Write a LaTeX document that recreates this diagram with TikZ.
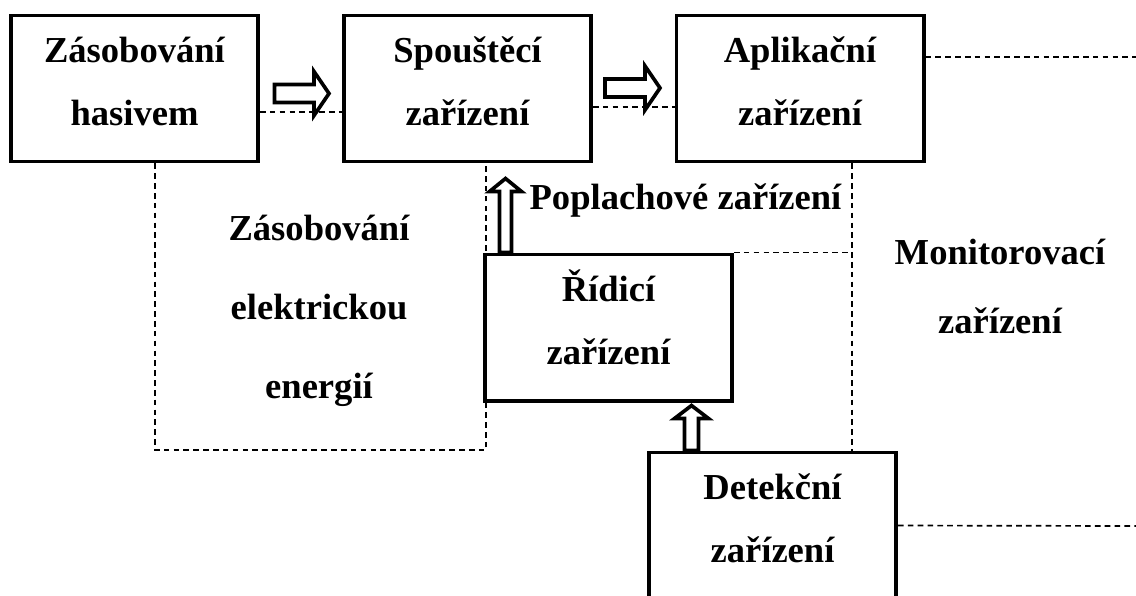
\documentclass[tikz,border=0pt]{standalone}
\usepackage{fontspec}
\setmainfont{Liberation Serif}
\usetikzlibrary{calc}
\newcommand{\zstrut}{\rule[-18.5pt]{0pt}{44.8pt}}

\begin{document}
\begin{tikzpicture}[x=0.025cm, y=-0.025cm,
  box/.style={draw, line width=2.8pt, minimum width=6.175cm, minimum height=3.65cm, inner sep=0pt, align=center, font=\bfseries\fontsize{26}{44.8}\selectfont},
  txt/.style={inner sep=0pt, align=center, font=\bfseries\fontsize{26}{56.5}\selectfont},
  dashln/.style={line width=1.2pt, dash pattern=on 4pt off 3pt},
  blk/.style={draw, line width=2.6pt, fill=white, line join=miter}]
  \useasboundingbox (0,0) rectangle (1136,595);
  \clip (0,0) rectangle (1136,595);
  % boxes
  \node[box] (hasivo) at (134.5,88.5) {\zstrut Zásobování\\\zstrut hasivem};
  \node[box] (spoust) at (467.5,88.5) {\zstrut Spouštěcí\\\zstrut zařízení};
  \node[box] (aplik) at (800,88.5) {\zstrut Aplikační\\\zstrut zařízení};
  \node[box] (ridic) at (608.5,327.5) {\zstrut Řídicí\\\zstrut zařízení};
  \node[box] (detek) at (772.5,525.5) {\zstrut Detekční\\\zstrut zařízení};
  % free labels
  \node[txt] (energie) at (319,314) {\zstrut Zásobování\\\zstrut elektrickou\\\zstrut energií};
  \node[txt, font=\bfseries\fontsize{26}{48.4}\selectfont] (monitor) at (1000,293.5) {\zstrut Monitorovací\\\zstrut zařízení};
  \node[txt] (poplach) at (685.5,204.5) {\zstrut Poplachové zařízení};
  % dashed links
  \coordinate (okraj1) at (1136,57);
  \coordinate (okraj2) at (1136,526);
  \coordinate (roh) at (486,450);
  \coordinate (mon) at (852,0);
  \draw[dashln] ($(hasivo.east)+(0,23.5)$) -- ($(spoust.west)+(0,23.5)$);
  \draw[dashln] ($(spoust.east)+(0,18.5)$) -- ($(aplik.west)+(0,18.5)$);
  \draw[dashln] (aplik.east |- okraj1) -- (okraj1);
  \draw[dashln] ($(hasivo.south)+(20.5,0)$) |- (roh) -- (roh |- spoust.south);
  \draw[dashln] (mon |- aplik.south) -- (mon |- detek.north);
  \draw[dashln] (ridic.north east) -- (mon |- ridic.north east);
  \draw[dashln] (detek.east) -- (okraj2);
  % block arrows
  \draw[blk] ($(hasivo.east)+(14.5,-4)$) -- ++(39.5,0) -- ++(0,-13) -- ++(15,22) -- ++(-15,22) -- ++(0,-13) -- ++(-39.5,0) -- cycle;
  \draw[blk] ($(spoust.east)+(12,-9.5)$) -- ++(40,0) -- ++(0,-13) -- ++(15,22) -- ++(-15,22) -- ++(0,-13) -- ++(-40,0) -- cycle;
  \draw[blk] ($(ridic.north west)+(16.5,0)$) -- ++(0,-61) -- ++(-10,0) -- ++(16,-13) -- ++(16,13) -- ++(-10,0) -- ++(0,61) -- cycle;
  \draw[blk] ($(detek.north west)+(37.5,0)$) -- ++(0,-32) -- ++(-10,0) -- ++(17,-13) -- ++(17,13) -- ++(-10,0) -- ++(0,32) -- cycle;
\end{tikzpicture}
\end{document}
